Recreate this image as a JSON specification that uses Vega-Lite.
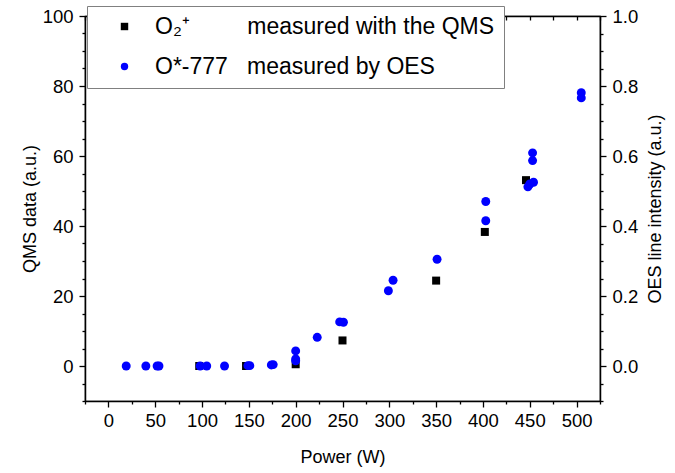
{
  "$schema": "https://vega.github.io/schema/vega-lite/v6.json",
  "autosize": {"type": "none"},
  "padding": {"left": 85, "top": 16, "right": 75, "bottom": 72},
  "width": 515,
  "height": 385,
  "background": "white",
  "config": {
    "view": {"stroke": "black", "strokeWidth": 1.2},
    "font": "Liberation Sans",
    "axis": {
      "domainColor": "black", "domainWidth": 1.5, "tickColor": "black", "tickWidth": 1.3,
      "labelFont": "Liberation Sans", "labelFontSize": 18.5, "labelColor": "black",
      "titleFont": "Liberation Sans", "titleFontSize": 18, "titleFontWeight": "normal", "titleColor": "black",
      "grid": false, "labelOverlap": false, "labelFlush": false
    },
    "legend": {
      "labelFont": "Liberation Sans", "labelFontSize": 23, "labelColor": "black", "labelLimit": 0
    }
  },
  "datasets": {
    "qms": [
      {"power": 97, "value": 0, "series": "QMS"},
      {"power": 147, "value": 0, "series": "QMS"},
      {"power": 200, "value": 0.5, "series": "QMS"},
      {"power": 250, "value": 7.3, "series": "QMS"},
      {"power": 350, "value": 24.4, "series": "QMS"},
      {"power": 402, "value": 38.3, "series": "QMS"},
      {"power": 446, "value": 53.1, "series": "QMS"}
    ],
    "oes": [
      {"power": 19, "value": 0, "series": "OES"},
      {"power": 40, "value": 0, "series": "OES"},
      {"power": 52, "value": 0, "series": "OES"},
      {"power": 54, "value": 0, "series": "OES"},
      {"power": 98, "value": 0, "series": "OES"},
      {"power": 105, "value": 0, "series": "OES"},
      {"power": 124, "value": 0, "series": "OES"},
      {"power": 149, "value": 0.001, "series": "OES"},
      {"power": 151, "value": 0.001, "series": "OES"},
      {"power": 174, "value": 0.003, "series": "OES"},
      {"power": 176, "value": 0.004, "series": "OES"},
      {"power": 200, "value": 0.015, "series": "OES"},
      {"power": 200, "value": 0.02, "series": "OES"},
      {"power": 200, "value": 0.043, "series": "OES"},
      {"power": 223, "value": 0.082, "series": "OES"},
      {"power": 247, "value": 0.126, "series": "OES"},
      {"power": 251, "value": 0.125, "series": "OES"},
      {"power": 299, "value": 0.215, "series": "OES"},
      {"power": 304, "value": 0.245, "series": "OES"},
      {"power": 351, "value": 0.305, "series": "OES"},
      {"power": 403, "value": 0.415, "series": "OES"},
      {"power": 403, "value": 0.47, "series": "OES"},
      {"power": 448, "value": 0.512, "series": "OES"},
      {"power": 450, "value": 0.52, "series": "OES"},
      {"power": 454, "value": 0.525, "series": "OES"},
      {"power": 453, "value": 0.587, "series": "OES"},
      {"power": 453, "value": 0.609, "series": "OES"},
      {"power": 505, "value": 0.766, "series": "OES"},
      {"power": 505, "value": 0.781, "series": "OES"}
    ]
  },
  "encoding": {
    "color": {
      "field": "series", "type": "nominal",
      "scale": {"domain": ["QMS", "OES"], "range": ["#000000", "#0000ff"]},
      "legend": {
        "title": null, "orient": "none", "legendX": 2, "legendY": -10,
        "strokeColor": "#808080", "fillColor": "white", "padding": 9,
        "symbolOffset": 17, "symbolSize": 55, "labelOffset": 19, "rowPadding": 16,
        "labelExpr": "datum.label == 'QMS' ? 'O₂⁺\u00a0\u00a0\u00a0\u00a0\u00a0\u00a0\u00a0\u00a0\u00a0measured with the QMS' : 'O*-777\u00a0\u00a0\u00a0measured by OES'"
      }
    },
    "shape": {
      "field": "series", "type": "nominal",
      "scale": {"domain": ["QMS", "OES"], "range": ["square", "circle"]}
    }
  },
  "layer": [
    {
      "data": {"name": "qms"},
      "mark": {"type": "point", "filled": true, "opacity": 1, "size": 64},
      "encoding": {
        "x": {
          "field": "power", "type": "quantitative",
          "scale": {"domain": [-25, 525], "nice": false, "zero": false},
          "axis": {
            "orient": "bottom", "title": "Power (W)",
            "values": [-25, 0, 25, 50, 75, 100, 125, 150, 175, 200, 225, 250, 275, 300, 325, 350, 375, 400, 425, 450, 475, 500, 525],
            "tickSize": {"condition": {"test": "datum.value % 50 === 0", "value": 6}, "value": 3},
            "labelExpr": "datum.value % 50 === 0 ? datum.label : ''",
            "labelPadding": 4, "titlePadding": 19
          }
        },
        "y": {
          "field": "value", "type": "quantitative",
          "scale": {"domain": [-10, 100], "nice": false, "zero": false},
          "axis": {
            "orient": "left", "title": "QMS data (a.u.)",
            "values": [-10, -5, 0, 5, 10, 15, 20, 25, 30, 35, 40, 45, 50, 55, 60, 65, 70, 75, 80, 85, 90, 95, 100],
            "tickSize": {"condition": {"test": "datum.value % 20 === 0", "value": 6}, "value": 3},
            "labelExpr": "datum.value % 20 === 0 ? datum.label : ''",
            "labelPadding": 6, "titlePadding": 3
          }
        }
      }
    },
    {
      "data": {"name": "oes"},
      "mark": {"type": "point", "filled": true, "opacity": 1, "size": 80},
      "encoding": {
        "x": {
          "field": "power", "type": "quantitative",
          "scale": {"domain": [-25, 525], "nice": false, "zero": false},
          "axis": {
            "orient": "top", "title": null, "labels": false,
            "values": [-25, 0, 25, 50, 75, 100, 125, 150, 175, 200, 225, 250, 275, 300, 325, 350, 375, 400, 425, 450, 475, 500, 525],
            "tickSize": -4
          }
        },
        "y": {
          "field": "value", "type": "quantitative",
          "scale": {"domain": [-0.1, 1.0], "nice": false, "zero": false},
          "axis": {
            "orient": "right", "title": "OES line intensity (a.u.)", "titleAngle": 270,
            "values": [-0.1, -0.05, 0, 0.05, 0.1, 0.15, 0.2, 0.25, 0.3, 0.35, 0.4, 0.45, 0.5, 0.55, 0.6, 0.65, 0.7, 0.75, 0.8, 0.85, 0.9, 0.95, 1.0],
            "format": ".1f",
            "tickSize": {"condition": {"test": "abs(datum.value * 5 - round(datum.value * 5)) < 0.000001", "value": 6}, "value": 3},
            "labelExpr": "abs(datum.value * 5 - round(datum.value * 5)) < 0.000001 ? datum.label : ''",
            "labelPadding": 6, "titlePadding": 27
          }
        }
      }
    }
  ],
  "resolve": {"scale": {"y": "independent"}, "axis": {"y": "independent", "x": "independent"}}
}
